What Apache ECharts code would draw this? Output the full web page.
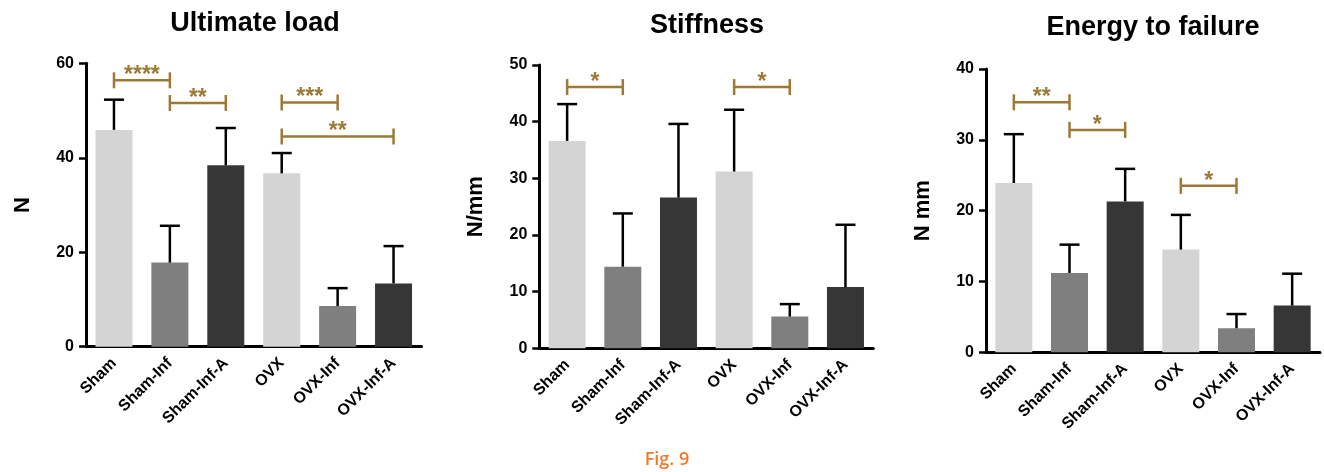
<!DOCTYPE html>
<html><head><meta charset="utf-8">
<script src="https://cdn.jsdelivr.net/npm/echarts@6/dist/echarts.min.js"></script>
<style>html,body{margin:0;padding:0;background:#fff}#c{width:1324px;height:472px}</style>
</head><body><div id="c"></div>
<script>
const categories = ['Sham','Sham-Inf','Sham-Inf-A','OVX','OVX-Inf','OVX-Inf-A'];
const barColors = ['#d4d4d4','#7f7f7f','#363636','#d4d4d4','#7f7f7f','#363636'];

const titles = ['Ultimate load','Stiffness','Energy to failure'];
const yNames = ['N','N/mm','N mm'];
const yMax = [60, 50, 40];
const yInterval = [20, 10, 10];

const loadMean = [45.9, 17.8, 38.4, 36.7, 8.6, 13.4];
const loadUpper = [52.3, 25.6, 46.3, 41.0, 12.4, 21.3];
const stiffMean = [36.6, 14.4, 26.6, 31.2, 5.6, 10.8];
const stiffUpper = [43.1, 23.8, 39.6, 42.1, 7.8, 21.8];
const energyMean = [23.9, 11.2, 21.3, 14.5, 3.4, 6.6];
const energyUpper = [30.8, 15.2, 25.9, 19.4, 5.4, 11.1];

// brackets: [fromIndex, toIndex, yValue, stars]
const loadBrackets = [[0,1,56.4,'****'],[1,2,51.6,'**'],[3,4,51.7,'***'],[3,5,44.5,'**']];
const stiffBrackets = [[0,1,46.1,'*'],[3,4,46.1,'*']];
const energyBrackets = [[0,1,35.3,'**'],[1,2,31.4,'*'],[3,4,23.5,'*']];

const means = [loadMean, stiffMean, energyMean];
const uppers = [loadUpper, stiffUpper, energyUpper];
const brackets = [loadBrackets, stiffBrackets, energyBrackets];

const grids = [
  {left:86, top:63.3, width:335.5, height:283.4},
  {left:539.3, top:65, width:334, height:283.3},
  {left:986, top:69, width:334, height:283.3}
];
const titlePos = [[255,24],[707,26],[1153,28]];
const gold = '#9c7a36';
const font = 'Liberation Sans, Arial, Helvetica, sans-serif';

const xAxis = [], yAxis = [], series = [], graphic = [];
for (let p = 0; p < 3; p++) {
  xAxis.push({
    type:'category', gridIndex:p, data:categories, boundaryGap:true,
    axisLine:{lineStyle:{color:'#000', width:3}},
    axisTick:{alignWithLabel:true, length:8, lineStyle:{color:'#000', width:2.5}},
    axisLabel:{rotate:45, margin:14, color:'#000', fontWeight:'bold', fontSize:16, fontFamily:font, interval:0}
  });
  yAxis.push({
    type:'value', gridIndex:p, min:0, max:yMax[p], interval:yInterval[p],
    name:yNames[p], nameLocation:'middle', nameGap:52, nameRotate:90,
    nameTextStyle:{color:'#000', fontWeight:'bold', fontSize:22, fontFamily:font},
    axisLine:{show:true, lineStyle:{color:'#000', width:3}},
    axisTick:{show:true, length:7, lineStyle:{color:'#000', width:2.5}},
    axisLabel:{color:'#000', fontWeight:'bold', fontSize:16, fontFamily:font, margin:12},
    splitLine:{show:false}
  });
  series.push({
    type:'bar', xAxisIndex:p, yAxisIndex:p, barWidth:37,
    data: means[p].map((v,i)=>({value:v, itemStyle:{color:barColors[i]}})),
    z:2
  });
  series.push({
    type:'custom', xAxisIndex:p, yAxisIndex:p, z:3,
    data: means[p].map((v,i)=>[i, v, uppers[p][i]]),
    renderItem:(params, api)=>{
      const a = api.coord([api.value(0), api.value(1)]);
      const b = api.coord([api.value(0), api.value(2)]);
      return {type:'group', children:[
        {type:'line', shape:{x1:a[0], y1:a[1], x2:b[0], y2:b[1]}, style:{stroke:'#000', lineWidth:2.5}},
        {type:'line', shape:{x1:b[0]-10, y1:b[1], x2:b[0]+10, y2:b[1]}, style:{stroke:'#000', lineWidth:2.5}}
      ]};
    }
  });
  const br = brackets[p];
  series.push({
    type:'custom', xAxisIndex:p, yAxisIndex:p, z:4,
    data: br.map(d=>[d[0], d[1], d[2]]),
    renderItem:(params, api)=>{
      const a = api.coord([api.value(0), api.value(2)]);
      const b = api.coord([api.value(1), api.value(2)]);
      const label = br[params.dataIndex][3];
      return {type:'group', children:[
        {type:'line', shape:{x1:a[0], y1:a[1], x2:b[0], y2:b[1]}, style:{stroke:gold, lineWidth:2.5}},
        {type:'line', shape:{x1:a[0], y1:a[1]-8, x2:a[0], y2:a[1]+8}, style:{stroke:gold, lineWidth:2.5}},
        {type:'line', shape:{x1:b[0], y1:b[1]-8, x2:b[0], y2:b[1]+8}, style:{stroke:gold, lineWidth:2.5}},
        {type:'text', x:(a[0]+b[0])/2, y:a[1]-4.5, style:{text:label, fill:gold, font:'bold 23px ' + font, textAlign:'center', textVerticalAlign:'middle'}}
      ]};
    }
  });
  graphic.push({type:'text', x:titlePos[p][0], y:titlePos[p][1],
    style:{text:titles[p], fill:'#000', font:'bold 27px ' + font, textAlign:'center', textVerticalAlign:'middle'}});
}
graphic.push({type:'text', x:667, y:460, style:{text:'Fig. 9', fill:'#f07a2a', font:'600 18px "Open Sans", sans-serif', textAlign:'center', textVerticalAlign:'middle'}});

const chart = echarts.init(document.getElementById('c'), null, {renderer:'canvas'});
chart.setOption({
  animation:false, backgroundColor:'#fff',
  grid: grids, xAxis, yAxis, series, graphic
});
</script></body></html>
